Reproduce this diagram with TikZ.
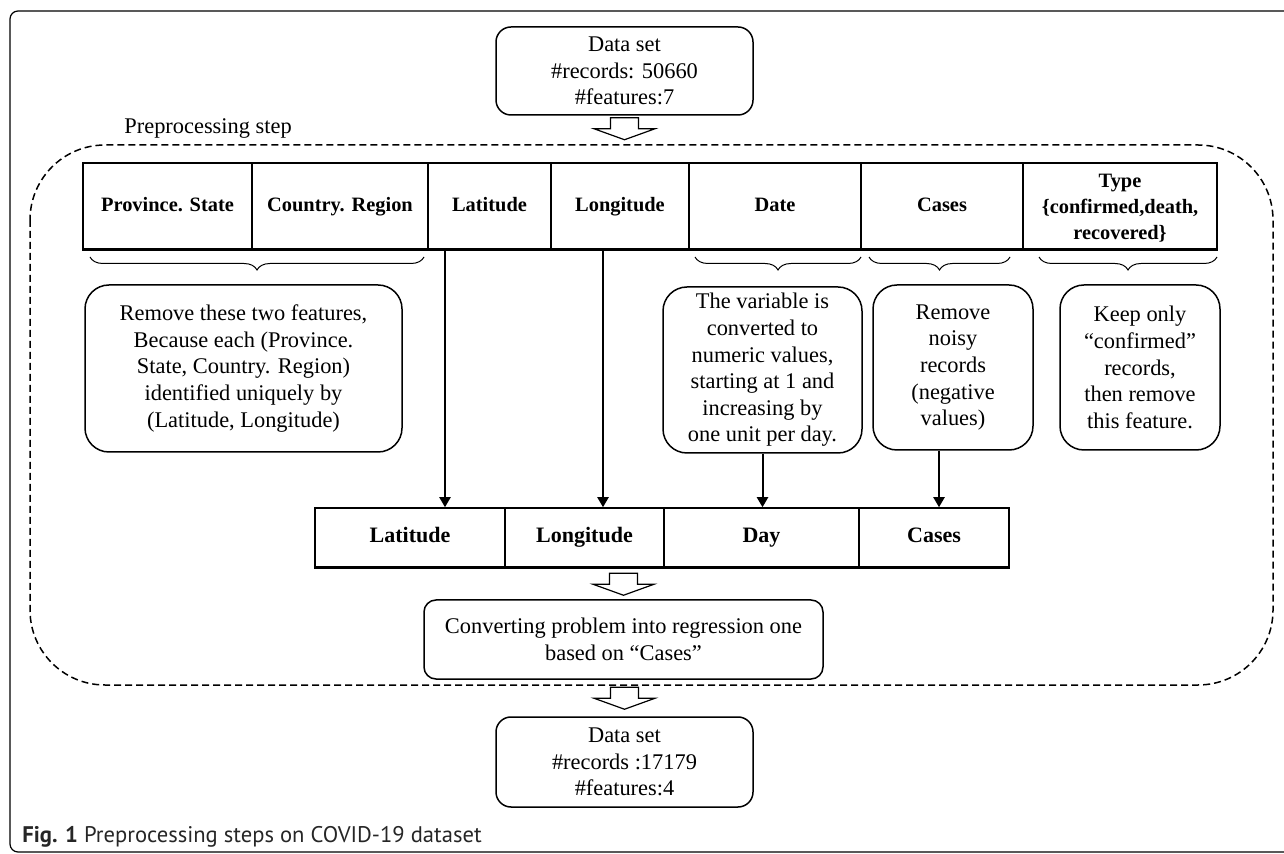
\documentclass[tikz,border=0pt]{standalone}
\usepackage{fontspec}
\setmainfont{Liberation Serif}
\newfontfamily\capfont{PT Sans}
\usetikzlibrary{arrows.meta,decorations.pathreplacing}

\begin{document}
\begin{tikzpicture}[x=0.5pt,y=-0.5pt,
    every node/.style={font=\fontsize{11.2}{13.3}\selectfont},
    hcell/.style={draw, line width=0.75pt, minimum height=43pt, inner sep=1pt, align=center, font=\fontsize{10.2}{13}\selectfont\bfseries},
    bcell/.style={draw, line width=0.75pt, minimum height=29.5pt, inner sep=1pt, font=\fontsize{11}{13}\selectfont\bfseries},
    rbox/.style={draw, line width=0.75pt, rounded corners=#1, align=center, inner sep=1pt},
    rbox/.default=7pt,
    feed/.style={line width=1pt, -{Triangle[length=5pt,width=5.5pt]}},
    curly/.style={decorate, decoration={brace, mirror, amplitude=6.5pt}, line width=0.5pt},
    prepzone/.style={line width=0.75pt, dash pattern=on 3.5pt off 2pt, rounded corners=37.5pt}]
    \def\hcell#1#2#3#4{
    \node[hcell, minimum width={(#3-#2)*0.5pt}] (#1) at ({(#2+#3)/2},206) {\strut#4};
    }
    \def\bcell#1#2#3#4{
    \node[bcell, minimum width={(#3-#2)*0.5pt}] (#1) at ({(#2+#3)/2},537.5) {\strut#4};
    }
    \def\hollowdown#1{
    \begin{scope}[shift={#1}]
    \draw[line width=0.6pt, fill=white] (-14,0) -- (14,0) -- (14,11) -- (30.5,11) -- (0,22) -- (-30.5,11) -- (-14,11) -- cycle;
    \end{scope}
    }

    \useasboundingbox (0,0) rectangle (1284,854);
    \clip (0,0) rectangle (1284,854);
    \draw[line width=0.6pt, rounded corners=4pt] (1300,11) -- (10,11) -- (10,852) -- (1300,852);

    \node[rbox=7.5pt, minimum width=128.5pt, minimum height=44pt] (dsin) at (624.5,71) {Data set\\\#records: 50660\\\#features:7};
    \hollowdown{([yshift=-1pt]dsin.south)};

    \draw[prepzone] (30,145) rectangle (1273,685);
    \node[anchor=base west, inner sep=0pt] (preplabel) at (124,134) {Preprocessing step};

    \hcell{prov}{83}{252}{Province. State}
    \hcell{ctry}{252}{428}{Country. Region}
    \hcell{lat}{428}{551}{Latitude}
    \hcell{lon}{551}{689}{Longitude}
    \hcell{date}{689}{861}{Date}
    \hcell{cases}{861}{1023}{Cases}
    \hcell{type}{1023}{1217}{Type\\\{confirmed,death,\\recovered\}}
    \draw[line width=1.75pt] (prov.south west) -- (type.south east);

    \draw[curly] (90,257) -- (424,257);
    \draw[curly] (695,257) -- (861,257);
    \draw[curly] (869,257) -- (1010,257);
    \draw[curly] (1039,257) -- (1217,257);

    \node[rbox=12pt, minimum width=158.5pt, minimum height=83.5pt] (remnote) at (243.5,368.5) {Remove these two features,\\Because each (Province.\\State, Country. Region)\\identified uniquely by\\(Latitude, Longitude)};
    \node[rbox=12pt, minimum width=99.5pt, minimum height=83pt] (datenote) at (762.5,370) {The variable is\\converted to\\numeric values,\\starting at 1 and\\increasing by\\one unit per day.};
    \node[rbox=12pt, minimum width=80pt, minimum height=82.5pt] (casenote) at (953,367.5) {Remove\\noisy\\records\\(negative\\values)};
    \node[rbox=12pt, minimum width=80pt, minimum height=82.5pt] (typenote) at (1140,367.5) {Keep only\\“confirmed”\\records,\\then remove\\this feature.};

    \bcell{blat}{315}{505}{Latitude}
    \bcell{blon}{505}{664}{Longitude}
    \bcell{bday}{664}{859}{Day}
    \bcell{bcases}{859}{1009}{Cases}
    \draw[line width=1.75pt] (blat.south west) -- (bcases.south east);

    \coordinate (xlat) at (445,0);
    \coordinate (xlon) at (603,0);
    \coordinate (xcas) at (939,0);
    \draw[feed] (lat.south -| xlat) -- (blat.north -| xlat);
    \draw[feed] (lon.south -| xlon) -- (blon.north -| xlon);
    \draw[feed] (datenote.south) -- (datenote.south |- bday.north);
    \draw[feed] (casenote.south -| xcas) -- (bcases.north -| xcas);

    \node[rbox=6pt, minimum width=199.5pt, minimum height=39.5pt] (conv) at (623.5,639.5) {Converting problem into regression one\\based on “Cases”};
    \hollowdown{([yshift=13pt]conv.north)};

    \node[rbox=7.5pt, minimum width=128.5pt, minimum height=45pt] (dsout) at (624.5,762) {Data set\\\#records :17179\\\#features:4};
    \hollowdown{([yshift=14.5pt]dsout.north)};

    \node[anchor=base west, inner sep=0pt, font=\capfont\fontsize{11.3}{13}\selectfont, text=black!85] (caption) at (22,842) {\textbf{Fig. 1} Preprocessing steps on COVID-19 dataset};
\end{tikzpicture}
\end{document}
